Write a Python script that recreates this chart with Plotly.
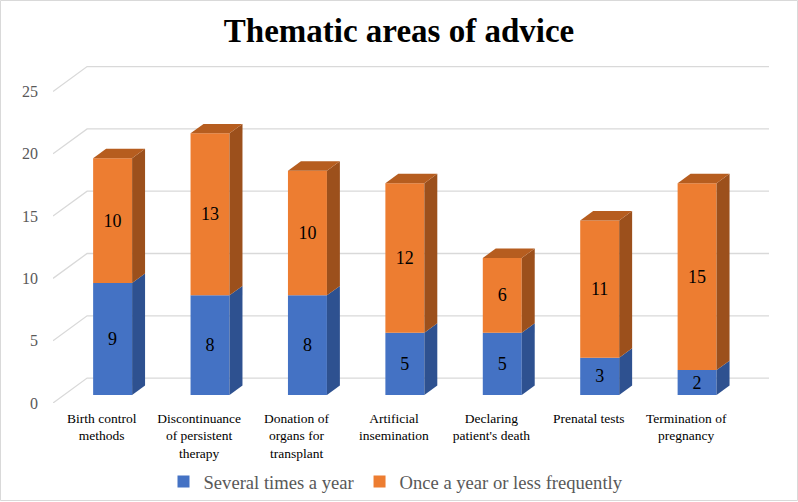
import plotly.graph_objects as go

categories = ["Birth control<br>methods", "Discontinuance<br>of persistent<br>therapy",
              "Donation of<br>organs for<br>transplant", "Artificial<br>insemination",
              "Declaring<br>patient's death", "Prenatal tests", "Termination of<br>pregnancy"]
several = [9, 8, 8, 5, 5, 3, 2]
once = [10, 13, 10, 12, 6, 11, 15]
y_ticks = [0, 5, 10, 15, 20, 25]

# pseudo-3D geometry (in axis units)
DX_WALL, DY_WALL = 0.35, 2.0
Z_FRONT, Z_DEPTH = 0.32, 0.38
BAR_W = 0.40
n = len(categories)
xc = [i + Z_FRONT * DX_WALL for i in range(n)]
yo = Z_FRONT * DY_WALL
sdx, sdy = Z_DEPTH * DX_WALL, Z_DEPTH * DY_WALL

BLUE, BLUE_SIDE = "#4472C4", "#2E5190"
ORANGE, ORANGE_SIDE, ORANGE_TOP = "#ED7D31", "#9C501C", "#B65D1F"
FONT = "Liberation Serif, Times New Roman, serif"

fig = go.Figure()

# back-wall gridlines with diagonal (as shapes below traces)
shapes = []
for v in y_ticks:
    path = (f"M {-0.5},{v} L {-0.5 + DX_WALL},{v + DY_WALL} "
            f"L {n - 0.5 + DX_WALL},{v + DY_WALL}")
    shapes.append(dict(type="path", xref="x", yref="y", path=path,
                       line=dict(color="#D9D9D9", width=1.3), layer="below"))

# side and top faces
def poly(xs, ys, color):
    fig.add_trace(go.Scatter(x=xs + [xs[0]], y=ys + [ys[0]], fill="toself", fillcolor=color,
                             mode="lines", line=dict(width=0, color=color),
                             hoverinfo="skip", showlegend=False))

for i in range(n):
    xr = xc[i] + BAR_W / 2
    xl = xc[i] - BAR_W / 2
    b0 = yo
    b1 = yo + several[i]
    b2 = b1 + once[i]
    poly([xr, xr + sdx, xr + sdx, xr], [b0, b0 + sdy, b1 + sdy, b1], BLUE_SIDE)
    poly([xr, xr + sdx, xr + sdx, xr], [b1, b1 + sdy, b2 + sdy, b2], ORANGE_SIDE)
    poly([xl, xr, xr + sdx, xl + sdx], [b2, b2, b2 + sdy, b2 + sdy], ORANGE_TOP)

# front faces
fig.add_trace(go.Bar(x=xc, y=several, base=[yo] * n, width=BAR_W, name="Several times a year",
                     marker=dict(color=BLUE, line=dict(width=0)), text=[str(v) for v in several],
                     textposition="inside", insidetextanchor="middle", textangle=0,
                     textfont=dict(family=FONT, size=18, color="black")))
fig.add_trace(go.Bar(x=xc, y=once, base=[yo + s for s in several], width=BAR_W,
                     name="Once a year or less frequently",
                     marker=dict(color=ORANGE, line=dict(width=0)), text=[str(v) for v in once],
                     textposition="inside", insidetextanchor="middle", textangle=0,
                     textfont=dict(family=FONT, size=18, color="black")))

L, R, T, B = 53, 29, 64, 99
W, H = 798, 502
pw, ph = W - L - R, H - T - B
yr = ph / 12.46

shapes.append(dict(type="rect", xref="paper", yref="paper",
                   x0=(0.5 - L) / pw, x1=(797.5 - L) / pw,
                   y0=((H - B) - 500.5) / ph, y1=((H - B) - 0.5) / ph,
                   line=dict(color="#D9D9D9", width=1), fillcolor="rgba(0,0,0,0)", layer="below"))

fig.update_layout(
    width=W, height=H, autosize=False,
    margin=dict(l=L, r=R, t=T, b=B, autoexpand=False),
    paper_bgcolor="white", plot_bgcolor="white",
    font=dict(family=FONT, color="black"),
    barmode="overlay",
    uniformtext=dict(minsize=18, mode="show"),
    title=dict(text="<b>Thematic areas of advice</b>", x=0.5, xref="container", xanchor="center",
               y=1 - 30 / H, yref="container", yanchor="middle",
               font=dict(family=FONT, size=33, color="black")),
    xaxis=dict(range=[-0.5, n - 0.5 + DX_WALL], tickvals=list(range(n)), ticktext=categories,
               showgrid=False, zeroline=False, showline=False, ticks="",
               tickfont=dict(family=FONT, size=13.5, color="black"), ticklabelstandoff=5,
               fixedrange=True, automargin=False),
    yaxis=dict(range=[0, yr], tickvals=y_ticks, showgrid=False, zeroline=False, showline=False,
               ticks="", tickfont=dict(family=FONT, size=16, color="#595959"),
               ticklabelstandoff=14, fixedrange=True, automargin=False),
    legend=dict(orientation="h", x=(396 - L) / pw, xanchor="center", y=-(482 - (H - B)) / ph,
                yanchor="middle", font=dict(family=FONT, size=18.6, color="#595959"),
                bgcolor="rgba(0,0,0,0)", traceorder="normal", itemsizing="constant"),
    shapes=shapes,
)

fig.write_html("out.html", config={"displayModeBar": False},
               post_script="document.body.style.margin='0';document.body.style.padding='0';"
                           "document.body.style.overflow='hidden';"
                           "document.documentElement.style.overflow='hidden';")
